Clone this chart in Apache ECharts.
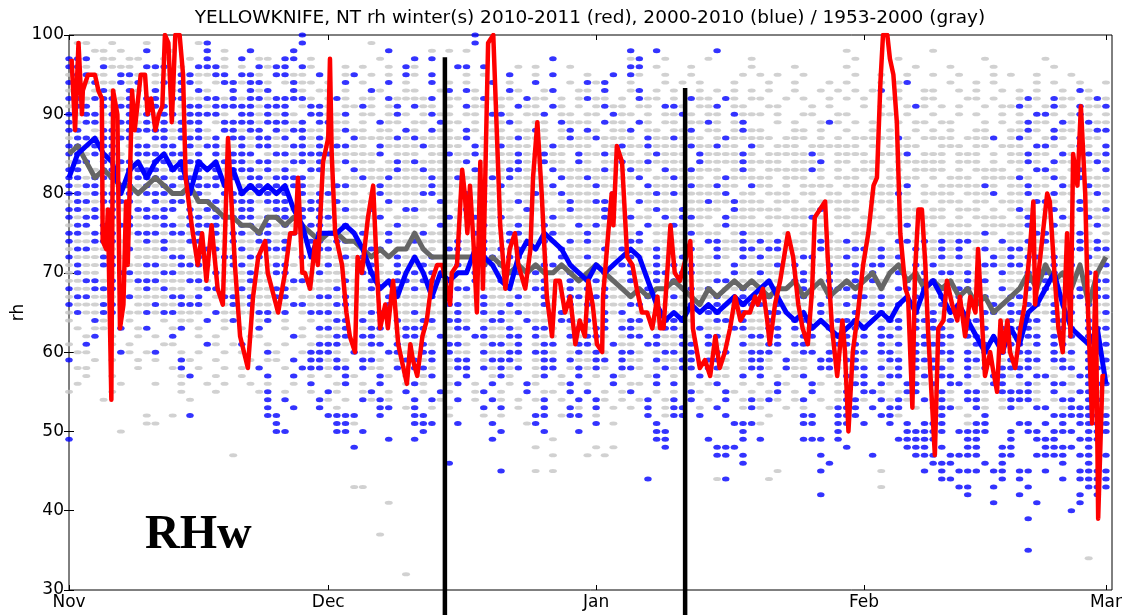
<!DOCTYPE html>
<html>
<head>
<meta charset="utf-8">
<title>Yellowknife winter relative humidity</title>
<script src="https://cdn.jsdelivr.net/npm/echarts/dist/echarts.min.js"></script>
<style>
html, body { margin: 0; padding: 0; background: #fff; }
#chart { width: 1124px; height: 615px; }
</style>
</head>
<body>
<div id="chart"></div>
<script>
const chartTitle = 'YELLOWKNIFE, NT rh winter(s) 2010-2011 (red), 2000-2010 (blue) / 1953-2000 (gray)';
const panelTag = 'RHw';

// x axis: days since Nov 1
const monthDays = [0, 30, 61, 92, 120];
const monthNames = ['Nov', 'Dec', 'Jan', 'Feb', 'Mar'];

// daily mean rh, 1953-2000 (gray) and 2000-2010 (blue), Nov 1 .. Mar 1
const grayMean = [
  85, 86, 84, 82, 83, 82, 81, 81, 80, 81,
  82, 81, 80, 80, 81, 79, 79, 78, 77, 77,
  76, 76, 75, 77, 77, 76, 77, 76, 75, 74,
  75, 75, 74, 74, 73, 72, 73, 72, 73, 73,
  75, 73, 72, 72, 72, 72, 72, 72, 71, 72,
  71, 70, 71, 70, 71, 70, 70, 71, 70, 69,
  70, 71, 70, 69, 68, 67, 68, 67, 68, 68,
  69, 68, 67, 66, 68, 67, 68, 69, 68, 69,
  68, 67, 68, 68, 69, 67, 68, 69, 67, 68,
  69, 68, 69, 70, 68, 70, 71, 69, 70, 68,
  69, 68, 69, 67, 68, 66, 67, 65, 66, 67,
  68, 70, 68, 71, 69, 70, 68, 71, 66, 70,
  72
];
const blueMean = [
  82, 85, 86, 87, 85, 84, 80, 83, 84, 82,
  84, 85, 83, 84, 80, 84, 83, 84, 81, 83,
  80, 81, 80, 81, 80, 81, 78, 76, 72, 75,
  75, 75, 76, 75, 73, 70, 68, 69, 67, 70,
  72, 70, 67, 70, 69, 70, 70, 73, 72, 71,
  69, 68, 72, 74, 73, 75, 74, 73, 71, 70,
  69, 71, 70, 71, 72, 73, 72, 69, 66, 64,
  65, 64, 66, 65, 66, 65, 66, 67, 66, 67,
  68, 69, 67, 65, 64, 65, 63, 64, 63, 62,
  63, 64, 63, 64, 65, 64, 66, 67, 65, 68,
  69, 67, 65, 66, 64, 62, 60, 62, 60, 63,
  61, 65, 66, 68, 70, 66, 63, 62, 61, 63,
  56
];

// winter 2010-2011 observations (day since Nov 1, rh)
const redDay = [
  0.3, 0.7, 1.1, 1.5, 1.6, 2.2, 3.0, 3.4, 3.8, 3.9,
  4.3, 4.5, 4.9, 5.1, 5.6, 5.9, 6.3, 6.6, 6.8, 7.3,
  7.6, 8.0, 8.3, 8.8, 9.1, 9.5, 10.0, 10.4, 10.8, 11.1,
  11.5, 11.9, 12.3, 12.8, 13.2, 13.5, 14.2, 14.9, 15.4, 15.9,
  16.5, 17.2, 17.8, 18.4, 19.2, 19.8, 20.7, 21.3, 21.9, 22.7,
  23.0, 24.2, 25.0, 25.6, 26.2, 26.5, 27.0, 27.3, 27.9, 28.5,
  28.8, 29.4, 30.0,
  30.2, 30.4, 30.8, 31.6, 32.1, 32.5, 33.1, 33.4, 33.9, 34.6,
  35.2, 35.6, 36.0, 36.6, 36.9, 37.5, 38.1, 38.7, 39.1, 39.5,
  39.8, 40.3, 40.9, 41.4, 42.0, 42.6, 43.2, 44.1, 44.3, 44.9,
  45.5, 45.8, 46.1, 46.4, 46.8, 47.2, 47.6, 47.9, 48.5, 49.1,
  49.5, 49.9, 50.5, 51.0, 51.6, 52.0, 52.8, 53.4, 53.7, 54.2,
  54.7, 55.3, 55.9, 56.3, 56.8, 57.4, 58.0, 58.6, 59.1, 59.7,
  60.1, 60.6,
  61.1, 61.7, 61.8, 62.4, 62.8, 63.0, 63.4, 64.0, 64.6, 65.2,
  65.7, 66.3, 66.9, 67.5, 68.1, 68.4, 68.8, 69.6, 70.1, 70.7,
  71.9, 72.2, 73.0, 73.6, 74.2, 74.8, 75.3, 75.9, 76.5, 77.1,
  77.7, 78.2, 78.8, 79.4, 79.7, 80.3, 80.8, 81.1, 81.7, 82.3,
  82.6, 83.2, 83.8, 84.4, 84.9, 85.5, 86.0, 86.3, 86.9, 87.5,
  87.8, 88.3, 88.9, 89.5, 89.8, 90.2, 90.7, 91.3,
  91.9, 92.5, 93.1, 93.5, 93.9, 94.2, 94.7, 95.0, 95.4, 95.8,
  96.2, 96.8, 97.1, 97.6, 97.9, 98.3, 98.7, 99.1, 99.4, 100.2,
  100.6, 101.2, 101.6, 102.2, 102.8, 103.1, 103.7, 104.3, 104.9, 105.2,
  105.7, 106.0, 106.6, 106.9, 107.4, 107.8, 108.1, 108.6, 108.9, 109.5,
  110.1, 110.6, 111.2, 111.6, 111.8, 112.4, 112.7, 113.2, 113.5, 114.1,
  114.5, 115.0, 115.5, 115.9, 116.2, 116.7, 117.1, 117.6, 117.9, 118.4,
  118.8, 119.1, 119.6, 119.9
];
const redRh = [
  97, 88, 99, 90, 93, 95, 95, 93, 92, 74,
  73, 78, 54, 93, 90, 63, 66, 79, 71, 93,
  88, 92, 95, 95, 90, 92, 88, 90, 91, 100,
  99, 89, 100, 100, 95, 82, 76, 71, 75, 69,
  76, 68, 66, 87, 71, 62, 58, 67, 72, 74,
  70, 65, 70, 75, 75, 82, 70, 70, 68, 74,
  71, 84, 87,
  97, 85, 75, 71, 65, 62, 60, 72, 70, 77,
  81, 71, 63, 66, 63, 69, 61, 58, 56, 61,
  59, 57, 62, 64, 69, 71, 71, 66, 70, 71,
  83, 80, 75, 81, 74, 65, 84, 68, 99, 100,
  88, 76, 68, 73, 75, 71, 68, 73, 82, 89,
  80, 67, 62, 69, 69, 65, 67, 61, 64, 62,
  69, 66,
  61, 60, 67, 75, 80, 76, 86, 84, 72, 71,
  68, 65, 65, 63, 67, 63, 63, 76, 70, 69,
  74, 63, 58, 59, 57, 62, 58, 60, 63, 67,
  64, 65, 65, 67, 66, 68, 64, 61, 66, 69,
  71, 75, 72, 66, 63, 61, 68, 77, 78, 79,
  72, 63, 57, 64, 60, 50, 60, 65,
  71, 75, 81, 82, 94, 100, 100, 97, 95, 89,
  75, 68, 67, 53, 70, 78, 78, 71, 63, 47,
  63, 64, 69, 66, 64, 67, 62, 67, 65, 73,
  63, 57, 60, 58, 55, 64, 60, 64, 60, 58,
  63, 66, 73, 79, 66, 72, 75, 80, 79, 69,
  63, 60, 75, 62, 85, 81, 91, 80, 66, 51,
  70, 39, 57, 57
];

// the two vertical period markers (day, top rh); they run down past the axis
const markerDay = [43.5, 71.3];
const markerTop = [97.2, 93.3];
const markerBase = 26.8;

// daily rh observations, one string per whole rh value from 100 down to 30,
// one character per day from Nov 1: g = 1953-2000, b = 2000-2010, . = none
const dailyObs = [
  '.......... .......... .......b.. .......... .......b.. .......... .......... .......... .......... .......... .......... .......... .',
  '.gg..g...g .....gb... .......b.. .....g.... .......b.. .......... .......... .......... .......... .......... .......... .......... .',
  '...gg.g..b ..g...b.g. .b....b... .......b.. ..g.g.g... .......... .....b..b. .....b.... .......... g......... g......... .......... .',
  'bbb.gg.gg. .g..g.b.g. b.gg.bb.g. ......g... b.b....... ......b... .....gb..g ....g....g .......... .g....g... ......g... ...g...... .',
  'bbg.bggg.b bb.g.bbbg. g.bgbb.bg. ..g.g..g.b g....bb.b. ..g.g...g. .....bb.g. ..g......g ....g..... g.......g. ..g....g.. ....g..... .',
  'gbbgg.bbg. gg.bbggbb. bbg.bbgg.b ..gb.g.g.b g.b...g.g. .b..g.b... g..b.bg..g ..g.....g. g.g..g.... .g..g..g.. g..g...g.g ..g...g... .',
  'bbgbggbgb. gbgbbg.gbb gbbg.gbgg. g.b.g..b.g ..b.g.g..b .g..b...g. bgb..g...g .g.g...g.. .g..g...g. g...g.gb.. ..g..g.g.. ..g.g..g.. g',
  'gb.gbg.bg. b.gb.bg..b .bgb..bg.g g.g..bg..g g..gb.bg.. .bg..gb..g g.b..gb.g. g..g.g.g.g .g..g..g.g .g.gb.g..g g..g.g..g. g.g..g.bg. .',
  'bbgbbbgb.b bgbbggbbgb gbbgbbbbg. gbg.gg.bgg ggb.gg.gbg gg.bgg.g.g bgg.g.bgg. g.bgg.bg.g g..g.g..g. g.g..gg..g g...gg.g.. gbg.bgg.gb g',
  'gbb.bgbbgg bb.gbbgbbb bbgbbb.gbb g.ggbg.gb. bgg.g.bgg. g.bgg.bg.g .gbgg.gg.b bg.ggb.gg. .gg...g.g. ..g.g..gbg .g.g..g.gg bg.gbg.bgg b',
  'bgbbgb.bgb gbbgbbbbg. bbgbgbg.bb ggb.gg.gbg .gbgg.gg.b bg.ggb.gg. gg.bgg.g.g gbg.gg.bgg g.g..gg..g g...gg.g.. g..g.g..g. g.bbg.gbg. g',
  'bgbbggbbgb bbgbbb.gbb bbgbbbgb.b bgg.g.bgg. gg.bgg.g.g gbg.gg.bgg g.bgg.bg.g g.ggbg.gb. ..g.g..gbg .g.g..g.gg .gg...g.g. gbgg.bg.bg g',
  'bb.gbbgbbb bbgbgbg.bb gbb.bgbbgg .gbgg.gg.b g.bgg.bg.g g.ggbg.gb. bg.ggb.gg. ggb.gg.gbg g...gg.g.. g..g.g..g. g.g..gg..g gbg.bgg.gb b',
  'gbbgbbbbg. bbgbbbgb.b bgbbgb.bgb gg.bggggbg bgggggb.gg ggbggg.gbg gbgggg.bgg bggg.gbggg gg.ggg.g.g .gggggbg.g ggg.gggb.g bg.gbg.bgg .',
  'bbgbbb.gbb gbb.bgbbgg bgbbggbbgb gbbgg.bggg gbgggg.bgg bggg.gbggg g.ggbggbgg ggbggbgg.b g.ggg.gggg gg.g.gggg. .ggg.gg.gg g.bbg.gbg. b',
  'bbgbgbg.bb bgbbgb.bgb bb.gbbgbbb bgggggb.gg g.ggbggbgg ggbggbgg.b ggbggg.gbg gg.bggggbg .gggggbg.g ggg.gggb.g gg.ggg.g.g gbgg.bg.bg b',
  'gbb.bgbbgg bbgbbb.gbb bgbbggbbgb ggbggg.gbg bgggggb.gg ggbggbgg.b g.ggbggbgg gg.bggggbg ggg.gggb.g g.ggg.gggg gg.ggg.g.g gbg.bgg.gb g',
  'bb.gbbgbbb bgbbgb.bgb bbgbgbg.bb gg.bggggbg gbgggg.bgg gbbgg.bggg ggbggbgg.b ggbggg.gbg .gggggbg.g .ggg.gg.gg gg.g.gggg. g.bbg.gbg. b',
  'bbgbbb.gbb bbgbbbgb.b gbbgbbbbg. g.ggbggbgg ggbggbgg.b gbgggg.bgg bgggggb.gg bggg.gbggg gg.ggg.g.g gg.g.gggg. g.ggg.gggg bg.gbg.bgg g',
  'bgbbggbbgb gbbgbbbbg. gbb.bgbbgg gbbgg.bggg ggbggg.gbg bgggggb.gg gbgggg.bgg ggbggbgg.b gg.g.gggg. ggg.gggb.g .gggggbg.g gbgg.bg.bg g',
  'bbgbbbgb.b bbgbgbg.bb bgbbgb.bgb bggg.gbggg gbbgg.bggg g.ggbggbgg gg.bggggbg bgggggb.gg .ggg.gg.gg .gggggbg.g ggg.gggb.g gbg.bgg.gb g',
  'gbbgbbbbg. bgbbggbbgb bbgbbb.gbb gbgggg.bgg gg.bggggbg ggbggg.gbg gbbgg.bggg g.ggbggbgg g.ggg.gggg gg.ggg.g.g .ggg.gg.gg g.bbg.gbg. g',
  'bbgbgbg.bb gbb.bgbbgg bb.gbbgbbb ggbggbgg.b bggg.gbggg gg.bggggbg ggbggg.gbg gbgggg.bgg ggg.gggb.g gg.g.gggg. gg.ggg.g.g bg.gbg.bgg b',
  'bgbbgb.bgb bb.gbbgbbb bbgbbbgb.b bgggggb.gg g.ggbggbgg bggg.gbggg ggbggbgg.b gbbgg.bggg .gggggbg.g g.ggg.gggg gg.g.gggg. gbgg.bg.bg g',
  'gbb.bgbbgg gbbgbbbbg. bbgbgbg.bb ggbggg.gbg gg.bggggbg ggbggbgg.b gbgggg.bgg bggg.gbggg gg.ggg.g.g ggg.gggb.g g.ggg.gggg gbg.bgg.gb g',
  'bbgbbb.gbb bgbbgb.bgb bgbbggbbgb g.ggbggbgg gbgggg.bgg gbbgg.bggg bgggggb.gg ggbggg.gbg gg.g.gggg. .ggg.gg.gg .gggggbg.g g.bbg.gbg. g',
  'bggbbbg.gb gbggbb.ggb ggbbgb.gbb gbbggg.bgg bggggbg.bg gbgggbg.bg bggggbb.gg ggg.bbggbg bgbggg.bgg bgggg.bbgb gbgbbgg.bg gbgbgg.bgb g',
  'gbbggg.bgg gbgg.gbbgg bggbbbg.gb bggggbb.gg ggg.bbggbg bgbggg.bgg ggbgb.ggbg ggbg.bggbb gbbggg.bgg gbbgbgg.bg gbgb.gbggb bgggg.bbgb b',
  'bgggbbg.gg ggbbgb.gbb gbbggg.bgg ggbgb.ggbg ggbg.bggbb gbbggg.bgg bggggbg.bg gbgggbg.bg bggggbb.gg bgggbgb.gg gbgbgg.bgb gbbgbgg.bg g',
  'gbggbb.ggb bggbbbg.gb bgggbbg.gg bggggbg.bg gbgggbg.bg bggggbb.gg ggg.bbggbg bgbggg.bgg ggbgb.ggbg gbgbbgg.bg bgggg.bbgb bgggbgb.gg b',
  'gbgg.gbbgg gbbggg.bgg gbggbb.ggb ggg.bbggbg bgbggg.bgg ggbgb.ggbg ggbg.bggbb gbbggg.bgg bggggbg.bg gbgb.gbggb gbbgbgg.bg gbgbbgg.bg g',
  'ggbbgb.gbb bgggbbg.gg gbgg.gbbgg ggbg.bggbb gbbggg.bgg bggggbg.bg gbgggbg.bg bggggbb.gg ggg.bbggbg gbgbgg.bgb bgggbgb.gg gbgb.gbggb b',
  'bggbbbg.gb gbgg.gbbgg bgggbbg.gg gbgggbg.bg bggggbb.gg ggg.bbggbg bgbggg.bgg ggbgb.ggbg ggbg.bggbb bgggg.bbgb gbgbbgg.bg gbgbgg.bgb g',
  'gbbggg.bgg ggbbgb.gbb gbggbb.ggb bgbggg.bgg ggbgb.ggbg ggbg.bggbb gbbggg.bgg bggggbg.bg gbgggbg.bg gbbgbgg.bg gbgb.gbggb bgggg.bbgb b',
  'bgggbbg.gg bggbbbg.gb gbgg.gbbgg gbbggg.bgg ggg.bbggbg gbgggbg.bg bggggbb.gg ggbg.bggbb bgbggg.bgg bgggbgb.gg gbgbgg.bgb gbbgbgg.bg g',
  'gbggbb.ggb gbbggg.bgg ggbbgb.gbb bggggbb.gg bggggbg.bg bgbggg.bgg ggbgb.ggbg ggg.bbggbg gbbggg.bgg gbgbbgg.bg bgggg.bbgb bgggbgb.gg b',
  'g..bg..g.. .g.gg.b.gb ..gb.g..g. gbb.bgg.bg gbb.bbg.gb bg.bgg.bbg bgb.gbb.gb bbg.gbb.bg gbg.bbg.gb bbg.gbb.bb bgb.bbg.gb gbb.bbg.bg g',
  '.g.gg.b.gb ..gb.g..g. g.b..g.g.b bgb.gbb.gb bbg.gbb.bg gbg.bbg.gb gbb.bbg.gb bg.bgg.bbg gbb.bgg.bg gbb.bgb.bg bbg.bgb.bb bbg.gbb.bb b',
  '..gb.g..g. g.b..g.g.. .gg...bg.g gbb.bbg.gb bg.bgg.bbg gbb.bgg.bg bbg.gbb.bg gbg.bbg.gb bgb.gbb.gb bgb.bbg.gb gbb.bbg.bg gbb.bgb.bg g',
  'g.b..g.g.. .gg...bg.g b..g.g..gb bbg.gbb.bg gbg.bbg.gb bgb.gbb.gb bg.bgg.bbg gbb.bgg.bg gbb.bbg.gb bbg.bgb.bb bbg.gbb.bb bgb.bbg.gb b',
  '.gg...bg.g b..g.g..g. g..bg..gbb bg.bgg.bbg gbb.bgg.bg gbb.bbg.gb gbg.bbg.gb bgb.gbb.gb bbg.gbb.bg gbb.bbg.bg gbb.bgb.bg bbg.bgb.bb g',
  'b..g.g..g. g..bg..g.. .g.gg.b.bb gbg.bbg.gb bgb.gbb.gb bbg.gbb.bg gbb.bgg.bg gbb.bbg.gb bg.bgg.bbg bbg.gbb.bb bgb.bbg.gb gbb.bbg.bg b',
  '.gg.....g. ..gb.g..g. g.b..g.bbb gbb.bgg.bg bbg.gbb.bg bgb.gbb.gb gbg.bbg.gb gbb.bbg.gb bg.bgg.bbg gbb.bgb.bg bbg.bgb.bb bbg.gbb.bb g',
  '..g..g.... ...gb..g.. g..b..b.g. g.bg..bg.g .gb.g.b..g bg..gb.g.b .g.bg..gb. g..b.gg.b. b.g.gb..g. bgb.gbb.gb gbb.bg.bbg b.bbg.gbb. g',
  '.g....g... g..g..g.g. .g.g..g.b. .gb.g.b..g bg..gb.g.b .g.bg..gb. g..b.gg.b. b.g.gb..g. g.bg..bg.g gbb.bg.bbg b.bbg.gbb. gbg.bbg.bb b',
  'g....g.... ...g...g.. ..gb.g..g. bg..gb.g.b .g.bg..gb. g..b.gg.b. b.g.gb..g. g.bg..bg.g .gb.g.b..g b.bbg.gbb. gbg.bbg.bb bbg.b.gbbg g',
  '....g..... ....g..... ...b.b...b g.g.bgbg.. b.bg.b.g.b g.g.gb.g.b .bg.g.gb.g b.b.g.b.gb gbg.gb.g.g bbg.bgbg.b gbg.bbg.gb bbg.gbb.bb g',
  '.......... .......... ...b..b..b .g....bb.g b.g.g...b. b.g..b..bg .b.g.g.b.g bb.g.b..gb g..g.g..gb bb.b.bb.g. gbbg.bg.gb g.bb.gbbbg g',
  '.........g ..g.b..... ...bb..... bbbb..b... bb..g...g. g...bb.gbb .g.....b.g bb.b..b... .g...bb..b bb..bbg... .b..g.b... ....bbbbbb b',
  '.........g g......... ....b..... .bbg...... bbb..b...b ...gb..... .b.g....b. .......bbb g....bb..b b.b..b.b.b bb..gbb... bb.b.b.bbb b',
  '......g... .......... ....bb.... .bb.b..... .b........ b....b...b ........bb ........b. .........b .......bbb bb.bbbb..b .bb.bbb.bb b',
  'b......... .......... .......... .......b.. b........b ......g... ........bb ....b...b. b....bbb.b ......bbbb b...bb...b ..bbb..bbb .',
  '.......... .......... .......... ...b...... .......... ....g..... .g.g.....b .....bbb.. .......... b......bbb .b..bb..bb ...bbbb.b. .',
  '.......... .........g .......... .......... .......... ......g... g.g....... .....bb.b. .......b.. ...b....bb b.bbbb..bb ..bbbb.bb. b',
  '.......... .......... .......... .......... ....b..... .......... .......... ........b. ........b. .......... bbb...b.b. .....b..b. .',
  '.......... .......... .......... .......... .......... b...g.g... .......... .......... ..g....b.. ....g....b .b.bbb.bb. bb.b...bbb b',
  '.......... .......... .......... .......... .......... .......... .......b.. .....gb... .g........ .......... .bb.....b. b....b.bbb b',
  '.......... .......... .......... ...gg..... .......... .......... .......... .......... .......... ....g..... ...bb..b.. .b......bb b',
  '.......... .......... .......... .......... .......... .......... .......... .......... .......b.. .......... ....b..... b......b.b .',
  '.......... .......... .......... .......g.. .......... .......... .......... .......... .......... .......... .......b.. ..b....b.. .',
  '.......... .......... .......... .......... .......... .......... .......... .......... .......... .......... .......... ......b... .',
  '.......... .......... .......... .......... .......... .......... .......... .......... .......... .......... .......... .b........ .',
  '',
  '.......... .......... .......... ......g... .',
  '',
  '.......... .......... .......... .......... .......... .......... .......... .......... .......... .......... .......... .b........ .',
  '.......... .......... .......... .......... .......... .......... .......... .......... .......... .......... .......... ........g. .',
  '',
  '.......... .......... .......... .........g .',
  '',
  ''
];

const grayPts = [];
const bluePts = [];
dailyObs.forEach((row, i) => {
  const rh = 100 - i;
  const cells = row.replace(/\s/g, '');
  for (let d = 0; d < cells.length; d++) {
    if (cells[d] === 'g') grayPts.push([d, rh]);
    else if (cells[d] === 'b') bluePts.push([d, rh]);
  }
});

const font = '"DejaVu Sans", sans-serif';
const tickStyle = { inside: true, length: 5, lineStyle: { color: '#000', width: 1 } };

const chart = echarts.init(document.getElementById('chart'), null, { renderer: 'canvas' });

const markerSeries = markerDay.map((d, k) => ({
  type: 'line',
  data: [[d, markerTop[k]], [d, markerBase]],
  clip: false,
  symbol: 'none',
  silent: true,
  lineStyle: { color: '#000', width: 4.5, cap: 'butt' },
  z: 8
}));

chart.setOption({
  animation: false,
  backgroundColor: '#fff',
  grid: {
    left: 69, right: 12, top: 35, bottom: 25,
    show: true, borderColor: '#000', borderWidth: 1,
    containLabel: false, outerBoundsMode: 'none'
  },
  xAxis: [
    {
      type: 'value', min: 0, max: 120.7, position: 'bottom',
      axisLine: { show: false }, splitLine: { show: false },
      axisTick: Object.assign({ customValues: monthDays }, tickStyle),
      axisLabel: {
        customValues: monthDays,
        formatter: v => monthNames[monthDays.indexOf(v)],
        color: '#000', fontSize: 17, fontFamily: font, margin: 4
      }
    },
    {
      type: 'value', min: 0, max: 120.7, position: 'top',
      axisLine: { show: false }, splitLine: { show: false },
      axisTick: Object.assign({ customValues: monthDays }, tickStyle),
      axisLabel: { show: false }
    }
  ],
  yAxis: [
    {
      type: 'value', min: 30, max: 100, interval: 10, position: 'left',
      axisLine: { show: false }, splitLine: { show: false },
      axisTick: tickStyle,
      axisLabel: { color: '#000', fontSize: 17, fontFamily: font, margin: 5 },
      name: 'rh', nameLocation: 'middle', nameGap: 42, nameRotate: 90,
      nameMoveOverlap: false,
      nameTextStyle: { color: '#000', fontSize: 17, fontFamily: font }
    },
    {
      type: 'value', min: 30, max: 100, interval: 10, position: 'right',
      axisLine: { show: false }, splitLine: { show: false },
      axisTick: tickStyle,
      axisLabel: { show: false }
    }
  ],
  graphic: [
    {
      type: 'text', x: 590, y: 9, silent: true,
      style: { text: chartTitle, fill: '#000', font: '18.5px "DejaVu Sans"', align: 'center', verticalAlign: 'top' }
    },
    {
      type: 'text', x: 145, y: 512, silent: true,
      style: { text: panelTag, fill: '#000', font: 'bold 48px "Liberation Serif"', align: 'left', verticalAlign: 'top' }
    }
  ],
  series: [
    {
      name: '1953-2000', type: 'scatter', data: grayPts,
      symbol: 'circle', symbolSize: [8, 4], silent: true,
      progressive: 0, large: false,
      itemStyle: { color: '#c6c6c6' }, z: 1
    },
    {
      name: '2000-2010', type: 'scatter', data: bluePts,
      symbol: 'circle', symbolSize: [7.5, 5], silent: true,
      progressive: 0, large: false,
      itemStyle: { color: '#0000ff' }, z: 2
    },
    {
      name: '1953-2000 mean', type: 'line', data: grayMean.map((v, i) => [i, v]),
      symbol: 'none', silent: true,
      lineStyle: { color: '#666666', width: 5, join: 'round' }, z: 3
    },
    {
      name: '2000-2010 mean', type: 'line', data: blueMean.map((v, i) => [i, v]),
      symbol: 'none', silent: true,
      lineStyle: { color: '#0000ff', width: 5, join: 'round' }, z: 4
    },
    {
      name: '2010-2011', type: 'line', data: redDay.map((d, i) => [d, redRh[i]]),
      symbol: 'none', silent: true,
      lineStyle: { color: '#ff0000', width: 4.5, join: 'round' }, z: 5
    }
  ].concat(markerSeries)
});
</script>
</body>
</html>
